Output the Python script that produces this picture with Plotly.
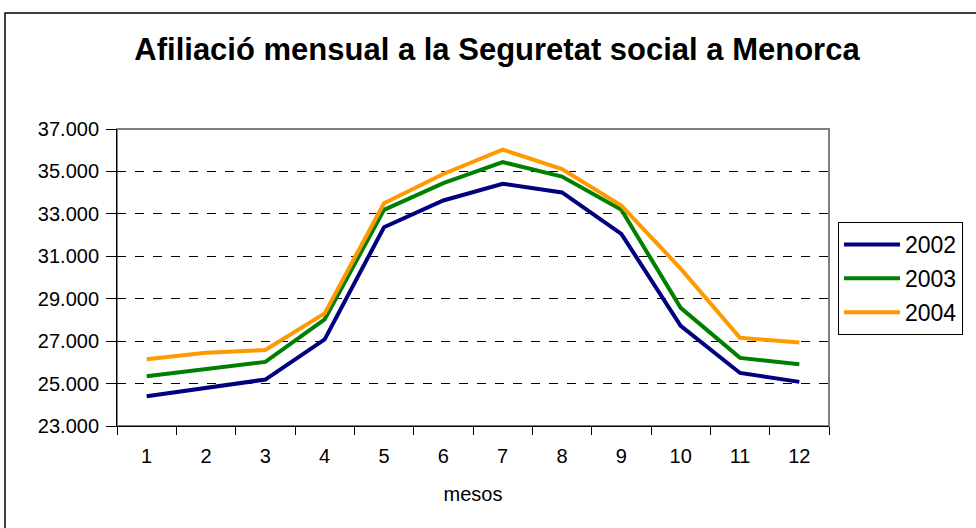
import plotly.graph_objects as go

months = ["1", "2", "3", "4", "5", "6", "7", "8", "9", "10", "11", "12"]
y2002 = [24400, 24790, 25190, 27080, 32370, 33630, 34420, 34010, 32060, 27720, 25500, 25080]
y2003 = [25350, 25690, 26020, 28030, 33190, 34450, 35440, 34760, 33190, 28570, 26210, 25910]
y2004 = [26150, 26450, 26580, 28310, 33500, 34880, 36030, 35110, 33390, 30420, 27160, 26940]
ytick_vals = [23000, 25000, 27000, 29000, 31000, 33000, 35000, 37000]
ytick_text = ["23.000", "25.000", "27.000", "29.000", "31.000", "33.000", "35.000", "37.000"]

series = [("2002", y2002, "#000080"), ("2003", y2003, "#008000"), ("2004", y2004, "#FF9900")]

FONT = "Arial, Liberation Sans, sans-serif"

fig = go.Figure()
for name, vals, col in series:
    fig.add_trace(go.Scatter(x=months, y=vals, name=name, mode="lines",
                             line=dict(color=col, width=4), legendgroup=name))

L, R, T, B = 117, 147, 129, 102
W, H = 976, 528
pw, ph = W - L - R, H - T - B

fig.update_layout(
    width=W, height=H,
    margin=dict(l=L, r=R, t=T, b=B),
    paper_bgcolor="white", plot_bgcolor="white",
    font=dict(family=FONT, color="black", size=20),
    title=dict(text="<b>Afiliació mensual a la Seguretat social a Menorca</b>",
               x=497 / W, xanchor="center", y=1 - 49 / H, yanchor="middle",
               font=dict(size=31, family=FONT, color="black")),
    showlegend=True,
    legend=dict(x=(838 - L) / pw, xanchor="left", y=(H - B - 222) / ph, yanchor="top",
                bordercolor="black", borderwidth=1, bgcolor="white",
                font=dict(size=23, family=FONT), tracegroupgap=1,
                itemwidth=56, traceorder="grouped"),
    xaxis=dict(type="category", range=[-0.5, 11.5], tickson="boundaries",
               ticks="outside", ticklen=8, tickcolor="black", showline=True,
               linecolor="black", linewidth=1, showgrid=False,
               tickfont=dict(size=20), ticklabelstandoff=12,
               title=dict(text="mesos", font=dict(size=20), standoff=20)),
    yaxis=dict(range=[23000, 37000], tickvals=ytick_vals, ticktext=ytick_text,
               ticks="outside", ticklen=10, tickcolor="black", showline=True,
               linecolor="black", linewidth=1, showgrid=True, gridcolor="black",
               griddash="dash", gridwidth=1, zeroline=False, tickfont=dict(size=20),
               ticklabelstandoff=3),
    shapes=[
        dict(type="rect", xref="paper", yref="paper", x0=0, x1=1, y0=0, y1=1,
             line=dict(color="#808080", width=2), layer="below"),
        dict(type="rect", xref="paper", yref="paper",
             x0=(5 - L) / pw, x1=(W + 10 - L) / pw,
             y0=(H - B - (H + 10)) / ph, y1=(H - B - 13) / ph,
             line=dict(color="black", width=1.5)),
    ],
)

fig.write_html("out.html", config={"displayModeBar": False},
               post_script="document.body.style.margin='0';")
